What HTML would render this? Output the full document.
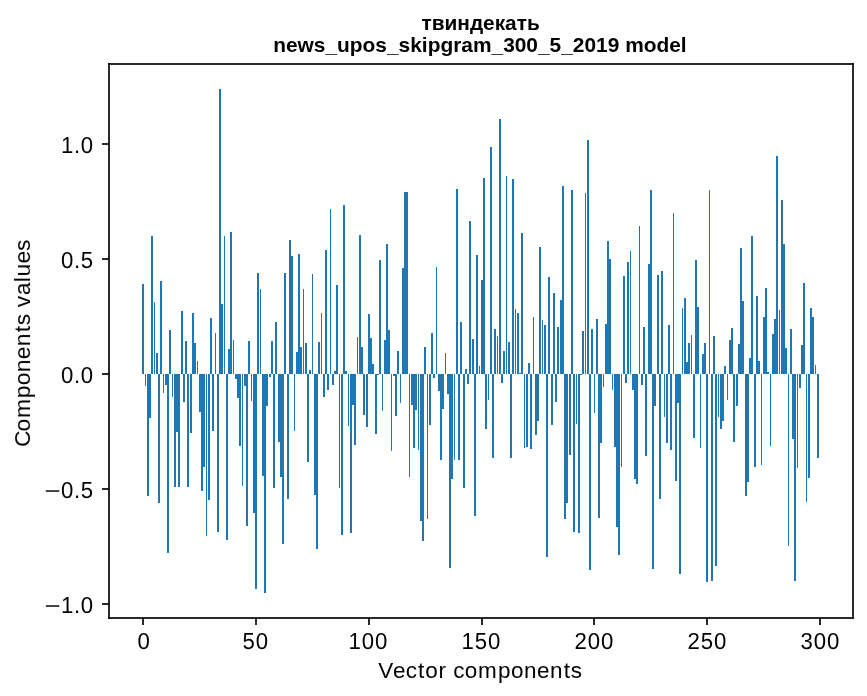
<!DOCTYPE html>
<html lang="ru">
<head>
<meta charset="utf-8">
<title>твиндекать — news_upos_skipgram_300_5_2019 model</title>
<style>
html,body{margin:0;padding:0;background:#ffffff;}
body{width:867px;height:696px;overflow:hidden;font-family:"Liberation Sans",sans-serif;}
svg{display:block;}
svg text{font-family:"Liberation Sans",sans-serif;fill:#000000;white-space:pre;}
svg text.g{text-rendering:geometricPrecision;}
</style>
</head>
<body>
<svg width="867" height="696" viewBox="0 0 867 696">
<rect x="0" y="0" width="867" height="696" fill="#ffffff"/>
<g shape-rendering="crispEdges">
<path fill="#1f77b4" d="M142 284h2v90h-2zM145 374h1v12h-1zM147 374h2v122h-2zM149 374h2v44h-2zM151 236h2v138h-2zM154 302h1v72h-1zM156 353h2v21h-2zM158 374h2v129h-2zM160 281h2v93h-2zM163 374h1v19h-1zM165 374h2v11h-2zM167 374h2v179h-2zM169 330h2v44h-2zM172 374h1v23h-1zM174 374h2v113h-2zM176 374h2v58h-2zM178 374h2v113h-2zM181 311h2v63h-2zM183 374h2v28h-2zM185 341h2v33h-2zM187 374h2v113h-2zM190 374h2v59h-2zM192 313h2v61h-2zM194 343h2v31h-2zM197 361h1v13h-1zM199 374h2v38h-2zM201 374h2v117h-2zM203 374h2v93h-2zM206 374h1v162h-1zM208 374h2v126h-2zM210 318h2v56h-2zM212 374h2v57h-2zM215 333h1v41h-1zM217 374h2v158h-2zM219 89h2v285h-2zM221 304h2v70h-2zM224 236h1v138h-1zM226 374h2v166h-2zM228 349h2v25h-2zM230 232h2v142h-2zM233 340h1v34h-1zM235 374h2v5h-2zM237 374h2v24h-2zM239 374h2v72h-2zM242 374h1v112h-1zM244 374h2v12h-2zM246 374h2v152h-2zM248 341h2v33h-2zM251 374h1v27h-1zM253 374h2v139h-2zM255 374h2v215h-2zM257 273h2v101h-2zM260 289h1v85h-1zM262 374h2v102h-2zM264 374h2v219h-2zM266 374h2v32h-2zM269 374h2v3h-2zM271 341h2v33h-2zM273 374h2v114h-2zM275 322h2v52h-2zM278 374h2v68h-2zM280 374h2v103h-2zM282 374h2v170h-2zM284 273h2v101h-2zM287 374h2v125h-2zM289 240h2v134h-2zM291 256h2v118h-2zM294 374h1v57h-1zM296 352h2v22h-2zM298 254h2v120h-2zM300 347h2v27h-2zM303 289h1v85h-1zM305 343h2v31h-2zM307 374h2v88h-2zM309 370h2v4h-2zM312 274h1v100h-1zM314 374h2v121h-2zM316 374h2v175h-2zM318 342h2v32h-2zM321 313h1v61h-1zM323 374h2v23h-2zM325 250h2v124h-2zM327 374h2v16h-2zM330 209h1v165h-1zM332 374h2v11h-2zM334 371h2v3h-2zM336 285h2v89h-2zM339 374h1v114h-1zM341 374h2v161h-2zM343 205h2v169h-2zM345 371h2v3h-2zM348 374h1v52h-1zM350 374h2v159h-2zM352 374h2v31h-2zM354 374h2v71h-2zM357 337h1v37h-1zM359 235h2v139h-2zM361 347h2v27h-2zM363 374h2v41h-2zM366 374h2v53h-2zM368 314h2v60h-2zM370 338h2v36h-2zM372 364h2v10h-2zM375 374h2v60h-2zM377 374h2v1h-2zM379 260h2v114h-2zM382 374h1v37h-1zM384 340h2v34h-2zM386 244h2v130h-2zM388 330h2v44h-2zM391 374h1v77h-1zM393 374h2v2h-2zM395 374h2v42h-2zM397 351h2v23h-2zM400 374h1v29h-1zM402 268h2v106h-2zM404 192h2v182h-2zM406 192h2v182h-2zM409 374h1v103h-1zM411 374h2v31h-2zM413 374h2v74h-2zM415 374h2v36h-2zM418 374h1v76h-1zM420 374h2v147h-2zM422 374h2v167h-2zM424 347h2v27h-2zM427 374h1v145h-1zM429 374h2v51h-2zM431 333h2v41h-2zM433 374h2v4h-2zM436 267h1v107h-1zM438 374h2v17h-2zM440 374h2v86h-2zM442 374h2v35h-2zM445 353h1v21h-1zM447 374h2v20h-2zM449 374h2v194h-2zM451 374h2v105h-2zM454 374h1v86h-1zM456 189h2v185h-2zM458 374h2v86h-2zM460 322h2v52h-2zM463 374h2v114h-2zM465 369h2v5h-2zM467 374h2v10h-2zM469 221h2v153h-2zM472 339h2v35h-2zM474 374h2v142h-2zM476 255h2v119h-2zM479 366h1v8h-1zM481 280h2v94h-2zM483 178h2v196h-2zM485 374h2v55h-2zM488 374h1v26h-1zM490 147h2v227h-2zM492 374h2v84h-2zM494 329h2v45h-2zM497 336h1v38h-1zM499 119h2v255h-2zM501 374h2v9h-2zM503 351h2v23h-2zM506 176h1v198h-1zM508 342h2v32h-2zM510 374h2v84h-2zM512 179h2v195h-2zM515 309h1v65h-1zM517 313h2v61h-2zM519 373h2v1h-2zM521 233h2v141h-2zM524 374h1v74h-1zM526 374h2v73h-2zM528 363h2v11h-2zM530 374h2v75h-2zM533 317h1v57h-1zM535 374h2v61h-2zM537 374h2v47h-2zM539 247h2v127h-2zM542 320h1v54h-1zM544 325h2v49h-2zM546 374h2v183h-2zM548 277h2v97h-2zM551 374h2v51h-2zM553 293h2v81h-2zM555 374h2v28h-2zM557 327h2v47h-2zM560 300h2v74h-2zM562 186h2v188h-2zM564 374h2v145h-2zM566 374h2v129h-2zM569 374h2v81h-2zM571 190h2v184h-2zM573 374h2v158h-2zM576 374h1v50h-1zM578 374h2v159h-2zM580 374h2v1h-2zM582 331h2v43h-2zM585 193h1v181h-1zM587 140h2v234h-2zM589 374h2v196h-2zM591 329h2v45h-2zM594 374h1v39h-1zM596 319h2v55h-2zM598 374h2v144h-2zM600 374h2v69h-2zM603 374h1v13h-1zM605 324h2v50h-2zM607 241h2v133h-2zM609 259h2v115h-2zM612 374h1v16h-1zM614 374h2v73h-2zM616 374h2v153h-2zM618 374h2v181h-2zM621 374h1v93h-1zM623 276h2v98h-2zM625 374h2v9h-2zM627 262h2v112h-2zM630 251h1v123h-1zM632 374h2v16h-2zM634 374h2v105h-2zM636 374h2v110h-2zM639 226h1v148h-1zM641 374h2v11h-2zM643 327h2v47h-2zM645 374h2v82h-2zM648 264h2v110h-2zM650 190h2v184h-2zM652 374h2v195h-2zM654 374h2v32h-2zM657 275h2v99h-2zM659 374h2v125h-2zM661 271h2v103h-2zM664 374h1v43h-1zM666 374h2v69h-2zM668 325h2v49h-2zM670 374h2v76h-2zM673 213h1v161h-1zM675 374h2v107h-2zM677 374h2v29h-2zM679 374h2v200h-2zM682 308h1v66h-1zM684 298h2v76h-2zM686 362h2v12h-2zM688 343h2v31h-2zM691 335h1v39h-1zM693 374h2v64h-2zM695 260h2v114h-2zM697 307h2v67h-2zM700 374h1v74h-1zM702 354h2v20h-2zM704 343h2v31h-2zM706 374h2v208h-2zM709 190h1v184h-1zM711 374h2v207h-2zM713 336h2v38h-2zM715 374h2v192h-2zM718 374h1v43h-1zM720 374h2v55h-2zM722 374h2v47h-2zM724 366h2v8h-2zM727 374h1v26h-1zM729 340h2v34h-2zM731 328h2v46h-2zM733 374h2v68h-2zM736 374h2v32h-2zM738 344h2v30h-2zM740 248h2v126h-2zM742 301h2v73h-2zM745 374h2v122h-2zM747 374h2v108h-2zM749 358h2v16h-2zM751 236h2v138h-2zM754 374h2v93h-2zM756 296h2v78h-2zM758 361h2v13h-2zM761 374h1v91h-1zM763 317h2v57h-2zM765 288h2v86h-2zM767 372h2v2h-2zM770 374h1v72h-1zM772 334h2v40h-2zM774 319h2v55h-2zM776 156h2v218h-2zM779 310h1v64h-1zM781 200h2v174h-2zM783 244h2v130h-2zM785 348h2v26h-2zM788 374h1v172h-1zM790 329h2v45h-2zM792 374h2v65h-2zM794 374h2v207h-2zM797 374h1v94h-1zM799 374h2v14h-2zM801 345h2v29h-2zM803 283h2v91h-2zM806 374h1v128h-1zM808 374h2v104h-2zM810 308h2v66h-2zM812 317h2v57h-2zM815 365h1v9h-1zM817 374h2v84h-2z"/>
<g fill="#2a2a2a">
<rect x="108" y="63" width="2" height="556"/>
<rect x="852" y="63" width="2" height="556"/>
<rect x="108" y="63" width="746" height="2"/>
<rect x="108" y="617" width="746" height="2"/>
<rect x="142" y="619" width="2" height="6"/><rect x="255" y="619" width="2" height="6"/><rect x="368" y="619" width="2" height="6"/><rect x="481" y="619" width="2" height="6"/><rect x="593" y="619" width="2" height="6"/><rect x="706" y="619" width="2" height="6"/><rect x="819" y="619" width="2" height="6"/><rect x="102" y="143" width="6" height="2"/><rect x="102" y="258" width="6" height="2"/><rect x="102" y="373" width="6" height="2"/><rect x="102" y="488" width="6" height="2"/><rect x="102" y="603" width="6" height="2"/>
</g>
<g fill="#070707"><rect x="142" y="618" width="2" height="1"/><rect x="255" y="618" width="2" height="1"/><rect x="368" y="618" width="2" height="1"/><rect x="481" y="618" width="2" height="1"/><rect x="593" y="618" width="2" height="1"/><rect x="706" y="618" width="2" height="1"/><rect x="819" y="618" width="2" height="1"/><rect x="108" y="143" width="1" height="2"/><rect x="108" y="258" width="1" height="2"/><rect x="108" y="373" width="1" height="2"/><rect x="108" y="488" width="1" height="2"/><rect x="108" y="603" width="1" height="2"/></g>
<g><rect x="108" y="63" width="1" height="1" fill="#171717"/><rect x="109" y="63" width="1" height="1" fill="#0c0c0c"/><rect x="108" y="64" width="1" height="1" fill="#0c0c0c"/><rect x="109" y="64" width="1" height="1" fill="#070707"/><rect x="852" y="63" width="1" height="1" fill="#0c0c0c"/><rect x="853" y="63" width="1" height="1" fill="#171717"/><rect x="852" y="64" width="1" height="1" fill="#070707"/><rect x="853" y="64" width="1" height="1" fill="#0c0c0c"/><rect x="108" y="617" width="1" height="1" fill="#0c0c0c"/><rect x="109" y="617" width="1" height="1" fill="#070707"/><rect x="108" y="618" width="1" height="1" fill="#171717"/><rect x="109" y="618" width="1" height="1" fill="#0c0c0c"/><rect x="852" y="617" width="1" height="1" fill="#070707"/><rect x="853" y="617" width="1" height="1" fill="#0c0c0c"/><rect x="852" y="618" width="1" height="1" fill="#0c0c0c"/><rect x="853" y="618" width="1" height="1" fill="#171717"/></g>
</g>
<g style="opacity:0.999">
<text x="421.50" y="30.00" font-size="20.83" font-weight="bold" textLength="118.22" lengthAdjust="spacingAndGlyphs">твиндекать</text>
<text x="273.19" y="52.00" font-size="20.83" font-weight="bold" textLength="413.50" lengthAdjust="spacingAndGlyphs">news_upos_skipgram_300_5_2019 model</text>
<text transform="translate(137.10 648.70) scale(0.9600 1)" x="0.48" y="0" font-size="23.10" class="g">0</text>
<text transform="translate(242.10 648.70) scale(0.9600 1)" x="0.48 14.28" y="0" font-size="23.10" class="g">50</text>
<text transform="translate(348.10 648.70) scale(0.9600 1)" x="0.48 14.28 28.09" y="0" font-size="23.10" class="g">100</text>
<text transform="translate(461.10 648.70) scale(0.9600 1)" x="0.48 14.28 28.09" y="0" font-size="23.10" class="g">150</text>
<text transform="translate(574.10 648.70) scale(0.9600 1)" x="0.48 14.28 28.09" y="0" font-size="23.10" class="g">200</text>
<text transform="translate(687.10 648.70) scale(0.9600 1)" x="0.48 14.28 28.09" y="0" font-size="23.10" class="g">250</text>
<text transform="translate(800.10 648.70) scale(0.9600 1)" x="0.48 14.28 28.09" y="0" font-size="23.10" class="g">300</text>
<text transform="translate(60.50 152.70) scale(0.9600 1)" x="0.48 14.04 21.18" y="0" font-size="23.10" class="g">1.0</text>
<text transform="translate(60.50 267.70) scale(0.9600 1)" x="0.48 14.04 21.18" y="0" font-size="23.10" class="g">0.5</text>
<text transform="translate(60.50 382.70) scale(0.9600 1)" x="0.48 14.04 21.18" y="0" font-size="23.10" class="g">0.0</text>
<text transform="translate(60.50 497.70) scale(0.9600 1)" x="0.48 14.04 21.18" y="0" font-size="23.10" class="g">0.5</text>
<text transform="translate(60.50 612.70) scale(0.9600 1)" x="0.48 14.04 21.18" y="0" font-size="23.10" class="g">1.0</text>
<text x="44.50" y="498.00" font-size="20.97" textLength="16.16" lengthAdjust="spacingAndGlyphs" class="g">−</text>
<text x="44.50" y="613.00" font-size="20.97" textLength="16.16" lengthAdjust="spacingAndGlyphs" class="g">−</text>
<text transform="translate(378.50 677.50) scale(1.0000 1)" x="-0.38 14.40 27.16 39.47 46.80 59.96 68.18 74.71 86.18 99.58 119.45 132.44 145.41 158.42 171.43 185.24 192.25" y="0" font-size="22.51">Vector components</text>
<text transform="translate(30.05 445.94) rotate(-90) scale(1.0050 1)" x="-0.95 14.51 27.81 47.62 60.54 73.45 86.39 99.33 113.12 120.06 131.27 138.18 150.03 163.05 168.71 181.65 194.06" y="0" font-size="22.66">Components values</text>
</g>
</svg>
</body>
</html>
